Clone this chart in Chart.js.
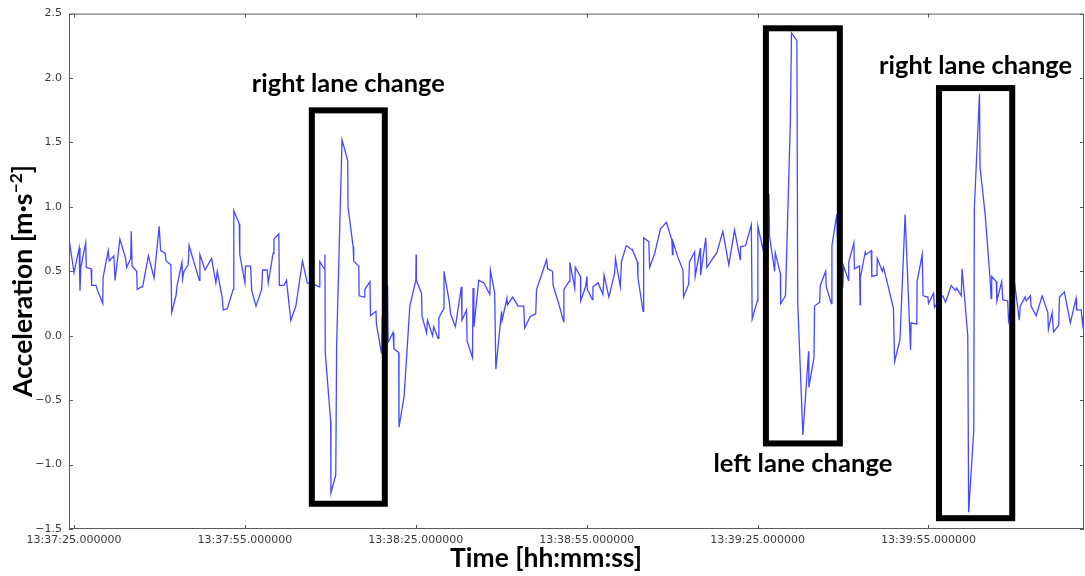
<!DOCTYPE html>
<html>
<head>
<meta charset="utf-8">
<script src="https://cdn.jsdelivr.net/npm/chart.js@4"></script>
<style>
  html, body { margin: 0; padding: 0; background: #fff; }
</style>
</head>
<body>
<canvas id="accelChart" width="1085" height="576"></canvas>
<script>
// seconds after 13:37:25
const timeSec = [
  -0.9, 0.0, 0.9, 1.05, 1.2, 2.05, 2.15, 3.0, 3.1, 3.85,
  4.15, 5.05, 5.1, 6.0, 6.2, 7.0, 7.2, 8.05, 9.05, 9.25,
  9.95, 10.05, 10.2, 11.0, 11.1, 11.9, 12.05, 13.05, 14.05, 14.95,
  15.2, 16.0, 16.15, 17.0, 17.15, 17.9, 18.1, 18.95, 19.05, 19.3,
  20.05, 20.2, 22.0, 22.1, 23.0, 24.15, 24.9, 25.15, 26.0, 26.2,
  26.9, 27.95, 28.05, 29.0, 29.1, 30.0, 30.1, 31.0, 31.2, 31.95,
  32.95, 33.1, 33.9, 34.1, 34.95, 35.1, 35.95, 36.05, 36.85, 37.3,
  38.05, 38.95, 40.1, 40.95, 42.0, 43.05, 43.15, 43.9, 44.05, 44.1,
  45.05, 45.1, 45.95, 46.1, 47.05, 48.05, 48.1, 49.0, 49.1, 50.0,
  50.05, 50.95, 51.05, 51.95, 52.05, 53.0, 53.1, 54.0, 54.1, 55.05,
  55.15, 56.0, 56.15, 57.0, 57.05, 57.95, 58.95, 60.0, 60.05, 60.1,
  61.0, 61.1, 61.9, 62.05, 62.95, 63.15, 63.9, 64.05, 64.9, 64.95,
  65.85, 66.1, 66.95, 68.0, 68.1, 68.9, 69.0, 69.95, 70.05, 70.2,
  71.05, 71.95, 73.0, 73.1, 73.85, 74.05, 75.05, 75.15, 76.0, 76.1,
  77.0, 77.95, 78.95, 79.1, 80.1, 81.05, 81.2, 82.05, 82.95, 83.15,
  84.0, 84.1, 84.95, 85.95, 86.0, 86.9, 87.05, 87.9, 88.0, 88.9,
  88.95, 89.8, 90.05, 90.1, 91.0, 91.1, 92.0, 92.85, 93.05, 93.9,
  94.9, 95.05, 95.9, 96.1, 96.95, 97.85, 98.0, 98.9, 99.0, 99.9,
  100.0, 100.9, 101.05, 101.95, 102.95, 104.0, 104.95, 105.05, 105.15, 106.0,
  106.9, 107.0, 107.9, 108.05, 108.95, 109.05, 109.95, 110.0, 110.9, 111.1,
  112.0, 112.85, 113.9, 114.95, 115.95, 116.95, 117.0, 117.9, 118.9, 119.05,
  119.95, 120.05, 120.95, 122.0, 122.1, 123.0, 123.1, 124.0, 124.05, 124.9,
  125.75, 125.95, 126.9, 127.05, 127.95, 128.95, 129.0, 129.9, 130.0, 130.9,
  131.0, 131.95, 132.05, 132.95, 133.05, 133.9, 134.1, 134.95, 135.1, 135.95,
  136.0, 136.9, 137.0, 137.9, 138.0, 138.05, 138.9, 139.05, 139.95, 140.05,
  140.95, 141.0, 141.9, 142.1, 143.0, 143.85, 144.05, 145.0, 145.9, 146.85,
  146.95, 147.95, 148.0, 148.9, 149.05, 149.9, 150.0, 150.9, 151.05, 152.25,
  152.5, 153.0, 154.0, 154.75, 154.95, 155.75, 155.9, 156.9, 157.05, 157.95,
  158.05, 158.95, 159.05, 159.95, 160.8, 161.0, 161.1, 161.9, 162.0, 162.85,
  163.05, 163.9, 164.05, 165.2, 165.95, 166.1, 166.95, 167.15, 167.9, 168.0,
  168.9, 169.95, 170.95, 171.05, 171.7, 171.95, 172.85, 173.0, 173.85, 174.9,
  175.9, 176.0, 176.8, 177.05, 177.3
];

// acceleration in m/s^2
const accel = [
  0.76, 0.49, 0.68, 0.35, 0.53, 0.72, 0.53, 0.52, 0.39, 0.39,
  0.35, 0.25, 0.45, 0.66, 0.58, 0.62, 0.43, 0.75, 0.60, 0.53,
  0.60, 0.81, 0.54, 0.50, 0.36, 0.38, 0.38, 0.62, 0.45, 0.85,
  0.66, 0.64, 0.58, 0.55, 0.18, 0.31, 0.39, 0.57, 0.44, 0.50,
  0.55, 0.70, 0.43, 0.63, 0.51, 0.60, 0.41, 0.50, 0.30, 0.20,
  0.21, 0.36, 0.97, 0.87, 0.63, 0.41, 0.54, 0.54, 0.35, 0.23,
  0.36, 0.51, 0.51, 0.41, 0.64, 0.75, 0.79, 0.39, 0.39, 0.43,
  0.12, 0.23, 0.58, 0.41, 0.40, 0.38, 0.575, 0.52, 0.63, -0.13,
  -0.66, -1.22, -1.08, -0.08, 1.52, 1.36, 1.00, 0.69, 0.58, 0.54,
  0.31, 0.30, 0.36, 0.42, 0.155, 0.19, 0.085, -0.14, 0.14, 0.39,
  -0.05, 0.025, -0.10, -0.13, -0.71, -0.47, 0.23, 0.43, 0.63, 0.43,
  0.33, 0.15, 0.02, 0.12, 0.00, 0.07, -0.02, 0.14, 0.21, 0.50,
  0.27, 0.17, 0.07, 0.38, 0.12, 0.20, -0.04, -0.17, 0.37, 0.07,
  0.43, 0.41, 0.32, 0.51, 0.33, -0.26, 0.19, 0.12, 0.29, 0.24,
  0.30, 0.23, 0.23, 0.06, 0.15, 0.17, 0.36, 0.47, 0.59, 0.52,
  0.50, 0.39, 0.27, 0.11, 0.36, 0.42, 0.57, 0.37, 0.53, 0.46,
  0.27, 0.38, 0.46, 0.36, 0.28, 0.38, 0.41, 0.32, 0.47, 0.30,
  0.485, 0.60, 0.38, 0.575, 0.70, 0.67, 0.67, 0.575, 0.45, 0.19,
  0.76, 0.73, 0.53, 0.64, 0.83, 0.88, 0.74, 0.63, 0.73, 0.61,
  0.51, 0.30, 0.40, 0.575, 0.65, 0.46, 0.68, 0.47, 0.76, 0.53,
  0.59, 0.645, 0.81, 0.55, 0.82, 0.59, 0.69, 0.70, 0.86, 0.13,
  0.27, 0.85, 0.67, 1.10, 0.77, 0.50, 0.645, 0.485, 0.25, 0.31,
  1.66, 2.35, 2.29, 0.25, -0.77, -0.12, -0.40, -0.17, 0.23, 0.26,
  0.39, 0.50, 0.38, 0.25, 0.70, 0.94, 0.64, 0.37, 0.54, 0.43,
  0.57, 0.72, 0.52, 0.54, 0.24, 0.45, 0.65, 0.63, 0.66, 0.46,
  0.47, 0.60, 0.50, 0.53, 0.37, 0.21, -0.20, -0.03, 0.94, -0.11,
  0.10, 0.09, 0.42, 0.63, 0.31, 0.30, 0.25, 0.33, 0.22, 0.30,
  0.31, 0.26, 0.39, 0.35, 0.37, 0.31, 0.52, 0.00, -1.37, -0.73,
  0.99, 1.88, 1.31, 0.94, 0.45, 0.29, 0.46, 0.42, 0.27, 0.42,
  0.28, 0.27, 0.12, 0.38, 0.12, 0.23, 0.30, 0.27, 0.31, 0.23,
  0.155, 0.31, 0.18, 0.05, 0.18, 0.03, 0.08, 0.30, 0.34, 0.10,
  0.29, 0.20, 0.20, 0.09, 0.18
];

const xTickSecs = [0, 30, 60, 90, 120, 150];
const xTickLabels = ['13:37:25.000000', '13:37:55.000000', '13:38:25.000000',
                     '13:38:55.000000', '13:39:25.000000', '13:39:55.000000'];

// lane change events: time span (s) and acceleration span of each box
const eventStart = [41.75, 121.46, 151.84];
const eventEnd   = [54.56, 134.44, 164.7];
const eventLow   = [-1.304, -0.836, -1.416];
const eventHigh  = [1.749, 2.386, 1.922];
const eventNames = ['right lane change', 'left lane change', 'right lane change'];

const axisColor = '#5a5a5a';
const titleFamily = 'Lato, "Open Sans", sans-serif';

// size a bold font so the text spans the given width
function fitSize(ctx, text, width) {
  ctx.font = 'bold 100px ' + titleFamily;
  return 100 * width / ctx.measureText(text).width;
}

const frameAndNotes = {
  id: 'frameAndNotes',
  afterDatasetsDraw(chart) {
    const { ctx, chartArea: a, scales: { x, y } } = chart;
    ctx.save();

    // spines
    ctx.strokeStyle = axisColor;
    ctx.lineWidth = 1;
    ctx.strokeRect(a.left + 0.5, a.top + 0.5, a.right - a.left - 1, a.bottom - a.top - 1);

    // inward ticks on all four sides
    ctx.beginPath();
    xTickSecs.forEach(t => {
      const px = Math.round(x.getPixelForValue(t)) + 0.5;
      ctx.moveTo(px, a.bottom); ctx.lineTo(px, a.bottom - 4);
      ctx.moveTo(px, a.top); ctx.lineTo(px, a.top + 4);
    });
    y.ticks.forEach(tk => {
      const py = Math.round(y.getPixelForValue(tk.value)) + 0.5;
      ctx.moveTo(a.left, py); ctx.lineTo(a.left + 4, py);
      ctx.moveTo(a.right, py); ctx.lineTo(a.right - 4, py);
    });
    ctx.stroke();

    // event boxes and labels
    const labelShift = [-18.6, 28.7, -13.7];
    ctx.strokeStyle = '#000';
    ctx.lineWidth = 6;
    eventNames.forEach((name, i) => {
      const l = x.getPixelForValue(eventStart[i]);
      const r = x.getPixelForValue(eventEnd[i]);
      const t = y.getPixelForValue(eventHigh[i]);
      const b = y.getPixelForValue(eventLow[i]);
      ctx.strokeRect(l, t, r - l, b - t);

      const size = fitSize(ctx, name, name.startsWith('right') ? 193 : 179);
      ctx.font = 'bold ' + size + 'px ' + titleFamily;
      ctx.fillStyle = '#000';
      ctx.textAlign = 'center';
      ctx.textBaseline = 'alphabetic';
      const base = labelShift[i] < 0 ? t + labelShift[i] : b + labelShift[i];
      ctx.fillText(name, (l + r) / 2, base);
    });
    ctx.restore();
  },
  afterDraw(chart) {
    const { ctx } = chart;
    ctx.save();
    ctx.fillStyle = '#000';
    ctx.textBaseline = 'alphabetic';

    // x axis title
    const xTitle = 'Time [hh:mm:ss]';
    ctx.font = 'bold ' + fitSize(ctx, xTitle, 192) + 'px ' + titleFamily;
    ctx.textAlign = 'center';
    ctx.fillText(xTitle, 546, 567);

    // y axis title with superscript
    const main = 'Acceleration [m\u00b7s', sup = '\u22122', tail = ']';
    ctx.font = 'bold 100px ' + titleFamily;
    const wMain = ctx.measureText(main).width;
    const wTail = ctx.measureText(tail).width;
    ctx.font = 'bold 65px ' + titleFamily;
    const wSup = ctx.measureText(sup).width;
    const k = 232 / (wMain + wSup + wTail);
    const size = 100 * k;

    ctx.translate(32, 281);
    ctx.rotate(-Math.PI / 2);
    let cx = -(wMain + wSup + wTail) * k / 2;
    ctx.textAlign = 'left';
    ctx.font = 'bold ' + size + 'px ' + titleFamily;
    ctx.fillText(main, cx, 0);
    cx += wMain * k;
    ctx.font = 'bold ' + size * 0.65 + 'px ' + titleFamily;
    ctx.fillText(sup, cx, -size * 0.38);
    cx += wSup * k;
    ctx.font = 'bold ' + size + 'px ' + titleFamily;
    ctx.fillText(tail, cx, 0);
    ctx.restore();
  }
};

const tickFont = { family: '"DejaVu Sans", sans-serif', size: 11 };

new Chart(document.getElementById('accelChart'), {
  type: 'line',
  data: {
    datasets: [{
      label: 'Acceleration',
      data: timeSec.map((t, i) => ({ x: t, y: accel[i] })),
      borderColor: 'rgba(40, 40, 255, 0.85)',
      borderWidth: 1.3,
      pointRadius: 0,
      tension: 0,
      fill: false
    }]
  },
  options: {
    responsive: false,
    animation: false,
    layout: { padding: { top: 12, right: 1, left: 0, bottom: 0 } },
    plugins: {
      legend: { display: false },
      tooltip: { enabled: false }
    },
    scales: {
      x: {
        type: 'linear',
        min: -0.88,
        max: 177.3,
        grid: { display: false, drawTicks: false },
        border: { display: false },
        afterBuildTicks: scale => { scale.ticks = xTickSecs.map(v => ({ value: v })); },
        afterFit: scale => { scale.height = 47; },
        ticks: {
          autoSkip: false,
          maxRotation: 0,
          padding: 5,
          color: '#3a3a3a',
          font: tickFont,
          callback: v => xTickLabels[xTickSecs.indexOf(v)]
        }
      },
      y: {
        min: -1.5,
        max: 2.5,
        grid: { display: false, drawTicks: false },
        border: { display: false },
        afterFit: scale => { scale.width = 69; },
        ticks: {
          stepSize: 0.5,
          padding: 7,
          color: '#3a3a3a',
          font: tickFont,
          callback: v => v.toFixed(1).replace('-', '\u2212')
        }
      }
    }
  },
  plugins: [frameAndNotes]
});
</script>
</body>
</html>
